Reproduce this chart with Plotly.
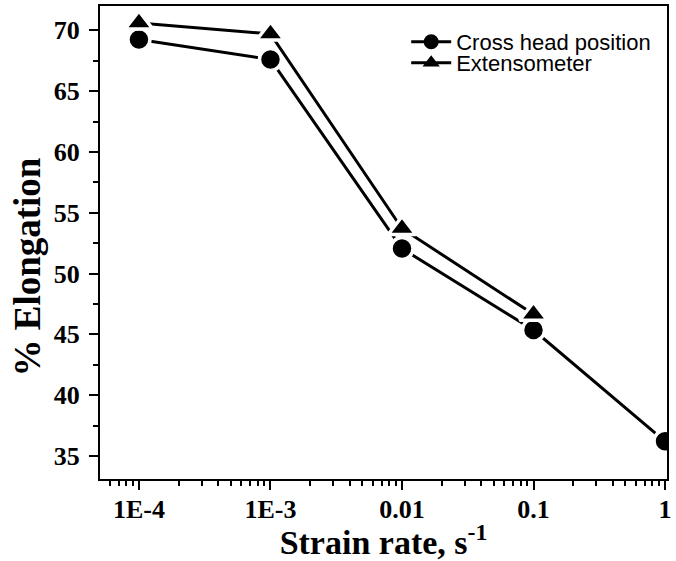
import plotly.graph_objects as go

# Elongation measured at each strain rate (s^-1)
strain_rate_crosshead = [1e-4, 1e-3, 1e-2, 1e-1, 1]
elong_crosshead = [69.25, 67.6, 52.05, 45.35, 36.2]

strain_rate_extenso = [1e-4, 1e-3, 1e-2, 1e-1]
elong_extenso = [70.6, 69.7, 53.7, 46.65]

x_tickvals = [1e-4, 1e-3, 1e-2, 1e-1, 1]
x_ticktext = ["1E-4", "1E-3", "0.01", "0.1", "1"]
y_tickvals = [35, 40, 45, 50, 55, 60, 65, 70]

serif = "Liberation Serif, Times New Roman, serif"
sans = "Liberation Sans, Arial, sans-serif"

fig = go.Figure()
# data series: white marker outline leaves a small gap where the line meets the symbol
fig.add_trace(go.Scatter(
    x=strain_rate_crosshead, y=elong_crosshead, name="Cross head position",
    mode="lines+markers", showlegend=False,
    line=dict(color="black", width=3),
    marker=dict(symbol="circle", size=22, color="black",
                line=dict(color="white", width=3.5)),
))
fig.add_trace(go.Scatter(
    x=strain_rate_extenso, y=elong_extenso, name="Extensometer",
    mode="lines+markers", showlegend=False,
    line=dict(color="black", width=3),
    marker=dict(symbol="triangle-up", size=24, color="black",
                line=dict(color="white", width=3.5)),
))

# legend entries (plain symbols, no outline), one per legend box for tight spacing
fig.add_trace(go.Scatter(
    x=[None], y=[None], name="Cross head position", mode="lines+markers",
    line=dict(color="black", width=3),
    marker=dict(symbol="circle", size=15, color="black"),
    legend="legend",
))
fig.add_trace(go.Scatter(
    x=[None], y=[None], name="Extensometer", mode="lines+markers",
    line=dict(color="black", width=3),
    marker=dict(symbol="triangle-up", size=15, color="black"),
    legend="legend2",
))

axis_common = dict(
    showline=True, linecolor="black", linewidth=2, mirror=True,
    ticks="outside", ticklen=9, tickwidth=2, tickcolor="black",
    showgrid=False, zeroline=False,
    tickfont=dict(family=serif, size=26, color="black", weight="bold"),
)

fig.update_xaxes(
    type="log", range=[-4.296, 0.015],
    tickmode="array", tickvals=x_tickvals, ticktext=x_ticktext,
    minor=dict(ticks="outside", ticklen=5, tickwidth=2, tickcolor="black",
               dtick="D1", showgrid=False),
    title=dict(text="<b>Strain rate, s<sup>-1</sup></b>",
               font=dict(family=serif, size=34, color="black"), standoff=0),
    ticklabelstandoff=-3,
    **axis_common,
)
fig.update_yaxes(
    range=[33.1, 72.0],
    tickmode="array", tickvals=y_tickvals,
    minor=dict(ticks="outside", ticklen=5, tickwidth=2, tickcolor="black",
               dtick=2.5, tick0=35, showgrid=False),
    ticklabelstandoff=4,
    **axis_common,
)

# y-axis title
fig.add_annotation(
    text="<b>% Elongation</b>", xref="paper", yref="paper",
    x=-0.128, y=0.448, xanchor="center", yanchor="middle",
    textangle=-90, showarrow=False,
    font=dict(family=serif, size=37, color="black"),
)

legend_style = dict(
    xanchor="left", yanchor="middle",
    bgcolor="rgba(0,0,0,0)", borderwidth=0,
    font=dict(family=sans, size=22, color="black"),
    itemwidth=40,
)

fig.update_layout(
    width=676, height=561,
    margin=dict(l=100, r=4, t=6, b=82),
    plot_bgcolor="white", paper_bgcolor="white",
    showlegend=True,
    legend=dict(x=0.54, y=0.924, **legend_style),
    legend2=dict(x=0.54, y=0.8795, **legend_style),
)

fig.write_html("out.html")
